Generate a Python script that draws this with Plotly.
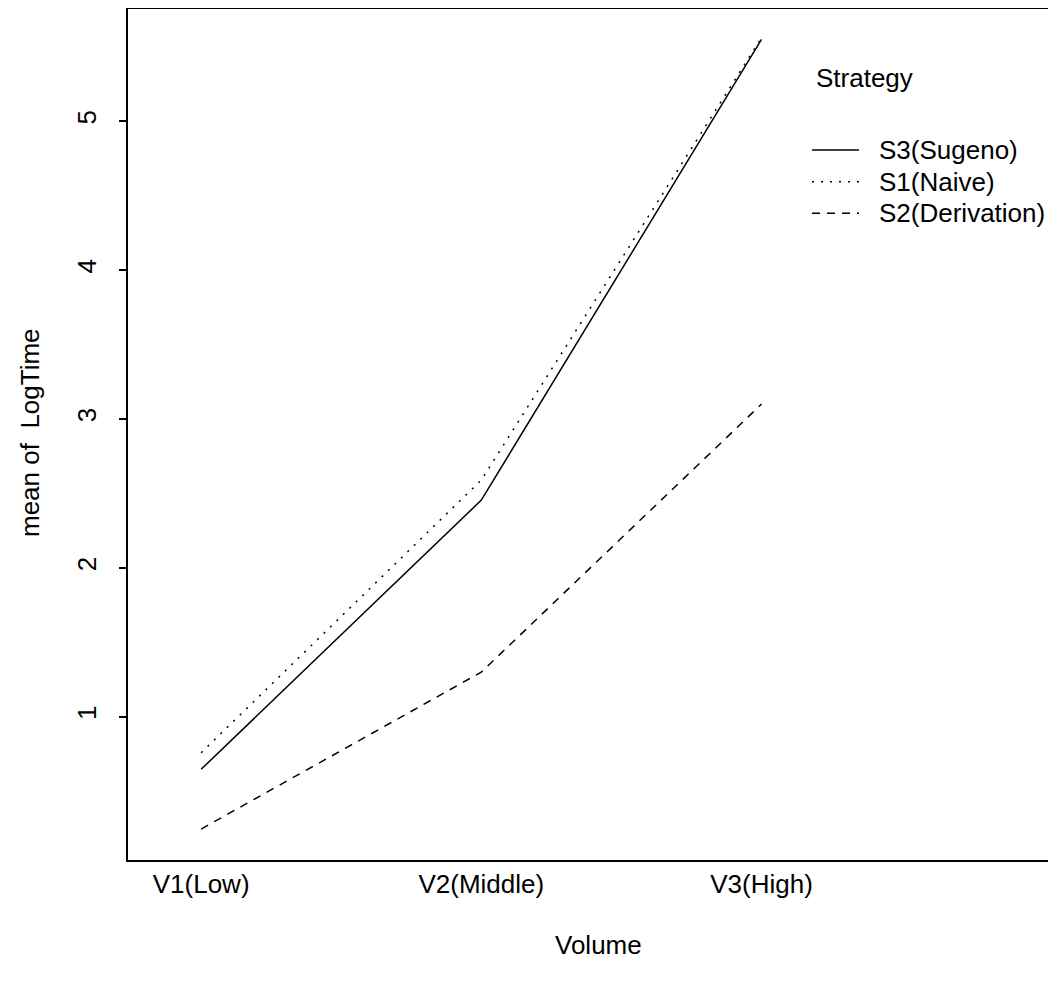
import plotly.graph_objects as go

# Data
volume_levels = ["V1(Low)", "V2(Middle)", "V3(High)"]
x_positions = [1, 2, 3]
strategy_names = ["S3(Sugeno)", "S1(Naive)", "S2(Derivation)"]
s3_sugeno = [0.647, 2.455, 5.549]
s1_naive = [0.758, 2.59, 5.56]
s2_derivation = [0.246, 1.30, 3.10]
y_ticks = [1, 2, 3, 4, 5]

series = [s3_sugeno, s1_naive, s2_derivation]
dashes = ["solid", "2px,7px", "8px,7px"]

FONT = "Liberation Sans"
FS = 26

# The page body has an 8px margin, so the figure is sized to fit the window exactly
OFF = 8
W, H = 1040, 970
L, T, B = 120, 1, 118
PW = W - L
PH = H - T - B

PX_PER_X = 280.2
X_AT_LEFT = 0.739
PX_PER_Y = 148.9
Y_AT_BOTTOM = 0.038

fig = go.Figure()
for name, vals, d in zip(strategy_names, series, dashes):
    fig.add_trace(go.Scatter(
        x=x_positions, y=vals, mode="lines", name=name,
        line=dict(color="black", width=1.5, dash=d),
        showlegend=False,
    ))

fig.update_layout(
    width=W, height=H,
    margin=dict(l=L, r=0, t=T, b=B, pad=0),
    paper_bgcolor="white", plot_bgcolor="white",
    font=dict(family=FONT, size=FS, color="black"),
    xaxis=dict(
        range=[X_AT_LEFT, X_AT_LEFT + PW / PX_PER_X],
        tickvals=x_positions, ticktext=volume_levels,
        ticks="", showgrid=False, zeroline=False,
        showline=True, linecolor="black", linewidth=2, mirror=True,
        tickfont=dict(size=FS), ticklabelstandoff=0,
    ),
    yaxis=dict(
        range=[Y_AT_BOTTOM, Y_AT_BOTTOM + PH / PX_PER_Y],
        tickvals=y_ticks,
        ticks="outside", ticklen=7, tickwidth=1.5, tickcolor="black",
        showgrid=False, zeroline=False,
        showline=True, linecolor="black", linewidth=2, mirror=False,
        tickangle=-90, tickfont=dict(size=FS), ticklabelstandoff=13,
    ),
)


def px_x(p):
    return (p - OFF - L) / PW


def px_y(p):
    return (H - B - (p - OFF)) / PH


ann = []
ann.append(dict(text="mean of  LogTime", xref="paper", yref="paper",
                x=px_x(30), y=px_y(433), textangle=-90, showarrow=False,
                xanchor="center", yanchor="middle", font=dict(size=FS)))
ann.append(dict(text="Volume", xref="paper", yref="paper",
                x=px_x(598), y=px_y(945), showarrow=False,
                xanchor="center", yanchor="middle", font=dict(size=FS)))
ann.append(dict(text="Strategy", xref="paper", yref="paper",
                x=px_x(814), y=px_y(78), showarrow=False,
                xanchor="left", yanchor="middle", font=dict(size=FS)))

shapes = []
row_y = [150, 181.7, 213.3]
for name, d, ry in zip(strategy_names, dashes, row_y):
    shapes.append(dict(type="line", xref="paper", yref="paper",
                       x0=px_x(812), x1=px_x(859), y0=px_y(ry), y1=px_y(ry),
                       line=dict(color="black", width=1.5, dash=d)))
    ann.append(dict(text=name, xref="paper", yref="paper",
                    x=px_x(877), y=px_y(ry), showarrow=False,
                    xanchor="left", yanchor="middle", font=dict(size=FS)))

fig.update_layout(annotations=ann, shapes=shapes)
fig.write_html("out.html")
